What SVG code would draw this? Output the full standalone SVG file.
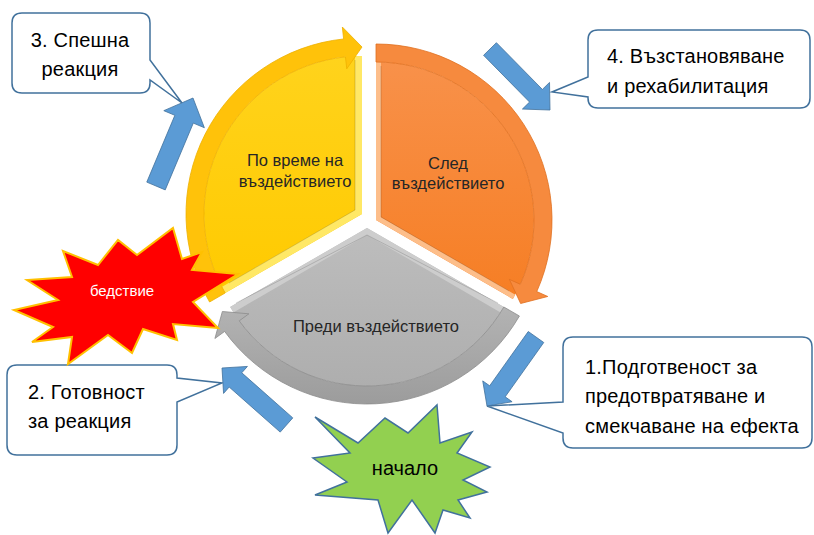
<svg xmlns="http://www.w3.org/2000/svg" width="814" height="535" viewBox="0 0 814 535">
  <style>
    .txt { font-family: "Liberation Sans", "DejaVu Sans", sans-serif; }
    .call { fill: #ffffff; stroke: #41719C; stroke-width: 1.5; }
    .ctext { font-size: 20px; fill: #000000; letter-spacing: 0.2px; }
    .blue { fill: #5B9BD5; stroke: #41719C; stroke-width: 0.8; }
    .ptext { font-size: 16.5px; fill: #262626; text-anchor: middle; }
    .seam { fill: none; stroke: #000000; stroke-opacity: 0.15; stroke-width: 1; }
  </style>
  <defs>
    <!-- segment bodies -->
    <path id="bodyY" d="M362 214 L225.17 293 A158 158 0 0 1 362 56 Z"/>
    <path id="bodyO" d="M376 220 L376 62 A158 158 0 0 1 512.83 299 Z"/>
    <path id="bodyG" d="M367 228 L503.83 307 A158 158 0 0 1 230.17 307 Z"/>
    <clipPath id="clipY"><use href="#bodyY"/></clipPath>
    <clipPath id="clipO"><use href="#bodyO"/></clipPath>
    <clipPath id="clipG"><use href="#bodyG"/></clipPath>
    <linearGradient id="gY" x1="0" y1="0" x2="0" y2="1">
      <stop offset="0" stop-color="#FFD31C"/>
      <stop offset="1" stop-color="#FFCA00"/>
    </linearGradient>
    <linearGradient id="gO" x1="0" y1="0" x2="0" y2="1">
      <stop offset="0" stop-color="#F8914A"/>
      <stop offset="1" stop-color="#F67E24"/>
    </linearGradient>
    <linearGradient id="gG" x1="0" y1="0" x2="0" y2="1">
      <stop offset="0" stop-color="#BDBDBD"/>
      <stop offset="1" stop-color="#AEAEAE"/>
    </linearGradient>
    <linearGradient id="gGband" x1="0" y1="0" x2="0" y2="1">
      <stop offset="0" stop-color="#B3B3B3"/>
      <stop offset="1" stop-color="#9C9C9C"/>
    </linearGradient>
  </defs>

  <!-- callout boxes -->
  <g id="callout-3">
    <path class="call" d="M22 13 H140 Q150 13 150 23 V60 L182 103 L150 80 V83 Q150 93 140 93 H22 Q12 93 12 83 V23 Q12 13 22 13 Z"/>
    <text class="txt ctext" x="80" y="47" text-anchor="middle">3. Спешна</text>
    <text class="txt ctext" x="80" y="76" text-anchor="middle">реакция</text>
  </g>
  <g id="callout-4">
    <path class="call" d="M598 30 H800 Q810 30 810 40 V98 Q810 108 800 108 H598 Q588 108 588 98 V97 L552 92 L588 77 V40 Q588 30 598 30 Z"/>
    <text class="txt ctext" x="607" y="63">4. Възстановяване</text>
    <text class="txt ctext" x="607" y="93">и рехабилитация</text>
  </g>
  <g id="callout-2">
    <path class="call" d="M17 365 H167 Q177 365 177 375 V378 L222 383 L177 402 V445 Q177 455 167 455 H17 Q7 455 7 445 V375 Q7 365 17 365 Z"/>
    <text class="txt ctext" x="28" y="399">2. Готовност</text>
    <text class="txt ctext" x="28" y="428">за реакция</text>
  </g>
  <g id="callout-1">
    <path class="call" d="M573 337 H802 Q812 337 812 347 V438 Q812 448 802 448 H573 Q563 448 563 438 V433 L487 406 L563 402 V347 Q563 337 573 337 Z"/>
    <text class="txt ctext" x="585" y="374">1.Подготвеност за</text>
    <text class="txt ctext" x="585" y="403">предотвратяване и</text>
    <text class="txt ctext" x="585" y="433">смекчаване на ефекта</text>
  </g>

  <!-- block arrows pointing at the cycle -->
  <g id="connectors">
    <polygon class="blue" points="146.78,182.12 174.87,115.32 163.81,110.67 193,98 204.37,127.73 193.31,123.08 165.22,189.88"/>
    <polygon class="blue" points="483.58,55.31 529.55,102.05 522.42,109.06 550,110 549.52,82.42 542.39,89.43 496.42,42.69"/>
    <polygon class="blue" points="528.25,331.5 489.67,385.82 482.74,380.9 487,406 512.1,401.74 505.17,396.82 543.75,342.5"/>
    <polygon class="blue" points="292.79,417.88 241.78,372.8 247.41,366.43 222,368 223.57,393.41 229.2,387.04 280.21,432.12"/>
  </g>

  <!-- segment: during impact -->
  <g id="seg-during">
    <use href="#bodyY" fill="url(#gY)"/>
    <path d="M362 50 L362 214 L220 296" fill="none" stroke="#FFE866" stroke-width="14" clip-path="url(#clipY)"/>
    <path class="seam" d="M355 60 L355 210 L229 283"/>
    <path d="M209.58 302 A176 176 0 0 1 343.6 38.96 L342.35 27.03 L362 47 L346.74 68.8 L345.48 56.87 A158 158 0 0 0 225.17 293 Z" fill="#FFC20A" stroke="#EDB000" stroke-width="0.8"/>
    <text class="txt ptext" x="295" y="166">По време на</text>
    <text class="txt ptext" x="295" y="187">въздействието</text>
  </g>

  <!-- segment: after impact -->
  <g id="seg-after">
    <use href="#bodyO" fill="url(#gO)"/>
    <path d="M376 56 L376 220 L518 302" fill="none" stroke="#FDBE8A" stroke-width="10" clip-path="url(#clipO)"/>
    <path class="seam" d="M381 66 L381 217 L509 291"/>
    <path d="M376 44 A176 176 0 0 1 536.78 291.59 L547.75 296.47 L520.63 303.5 L509.38 279.38 L520.34 284.26 A158 158 0 0 0 376 62 Z" fill="#F68A3E" stroke="#E07020" stroke-width="0.8"/>
    <text class="txt ptext" x="448" y="169">След</text>
    <text class="txt ptext" x="448" y="189">въздействието</text>
  </g>

  <!-- segment: before impact -->
  <g id="seg-before">
    <use href="#bodyG" fill="url(#gG)"/>
    <path d="M510 311 L367 228 L224 311" fill="none" stroke="#CDCDCD" stroke-width="12" clip-path="url(#clipG)"/>
    <path class="seam" d="M236 303 L367 235 L498 303"/>
    <path d="M519.42 316 A176 176 0 0 1 224.61 331.45 L214.9 338.5 L222.37 311.5 L248.88 313.82 L239.18 320.87 A158 158 0 0 0 503.83 307 Z" fill="url(#gGband)" stroke="#8C8C8C" stroke-width="0.8"/>
    <text class="txt ptext" x="376" y="332">Преди въздействието</text>
  </g>

  <!-- disaster burst -->
  <g id="burst-disaster">
    <polygon points="173,228 182,259 202,252 192,270 238,274 193,302 218,328 173,324 177,340 143,329 132,353 108,335 68,364 72,337 32,342 53,327 14,310 58,300 27,280 72,277 63,251 98,265 118,240 137,255" fill="#FF0000" stroke="#FFC000" stroke-width="2"/>
    <text class="txt" x="122" y="296" font-size="15" fill="#ffffff" text-anchor="middle">бедствие</text>
  </g>

  <!-- start burst -->
  <g id="burst-start">
    <polygon points="315,417 358,443 385,418 408,433 437,405 440,443 472,432 457,453 490,467 463,480 487,492 458,500 470,518 443,510 435,533 412,500 388,533 378,500 315,495 347,482 313,458 350,453" fill="#92D050" stroke="#41719C" stroke-width="1.5"/>
    <text class="txt" x="405" y="475" font-size="20" fill="#000000" text-anchor="middle">начало</text>
  </g>
</svg>
